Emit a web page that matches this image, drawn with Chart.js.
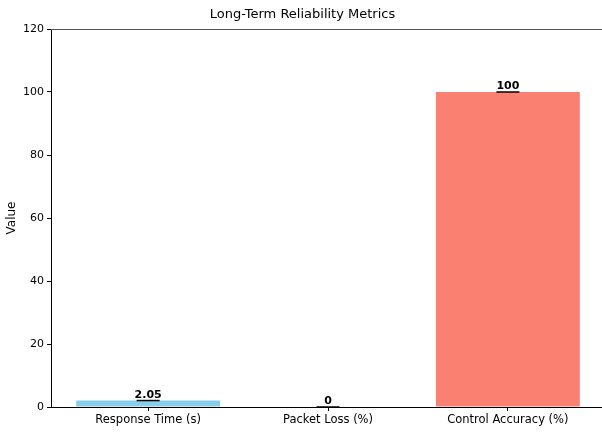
<!DOCTYPE html>
<html lang="en">
<head>
  <meta charset="UTF-8">
  <title>Long-Term Reliability Metrics</title>
  <script src="https://cdn.jsdelivr.net/npm/chart.js"></script>
  <style>
    body { margin: 0; background: #fff; overflow: hidden; }
    .wrap { width: 605px; height: 432px; }
  </style>
</head>
<body>
  <div class="wrap"><canvas id="grafico"></canvas></div>

  <script>
    const categorias = ['Response Time (s)', 'Packet Loss (%)', 'Control Accuracy (%)'];
    const valores = [2.05, 0, 100];
    const cores = ['#87CEEB', '#90EE90', '#FA8072'];
    const rotulos = ['2.05', '0', '100'];
    const yTicks = [0, 20, 40, 60, 80, 100, 120];

    const fonte = 'DejaVu Sans';

    // tampas de erro + rótulos em negrito acima de cada barra
    const rotulosPlugin = {
      id: 'rotulos',
      afterDatasetsDraw(chart) {
        const { ctx, scales: { x, y } } = chart;
        ctx.save();
        valores.forEach((v, i) => {
          const px = x.getPixelForValue(i);
          const py = y.getPixelForValue(v);
          ctx.strokeStyle = '#000';
          ctx.lineWidth = 1.5;
          ctx.beginPath();
          ctx.moveTo(px - 11.5, py);
          ctx.lineTo(px + 11.5, py);
          ctx.stroke();
          ctx.fillStyle = '#000';
          ctx.font = 'bold 11px "' + fonte + '"';
          ctx.textAlign = 'center';
          ctx.textBaseline = 'alphabetic';
          ctx.fillText(rotulos[i], px, py - 3);
        });
        // moldura superior
        const a = chart.chartArea;
        ctx.strokeStyle = '#555';
        ctx.lineWidth = 1;
        ctx.beginPath();
        ctx.moveTo(a.left, a.top + 0.5);
        ctx.lineTo(a.right, a.top + 0.5);
        ctx.stroke();
        ctx.restore();
      }
    };

    new Chart(grafico, {
      type: 'bar',
      data: {
        datasets: [{
          data: valores.map((v, i) => ({ x: i, y: v })),
          backgroundColor: cores,
          barPercentage: 0.8,
          categoryPercentage: 1
        }]
      },
      options: {
        responsive: true,
        maintainAspectRatio: false,
        animation: false,
        layout: { padding: 0 },
        plugins: {
          legend: { display: false },
          tooltip: { enabled: false },
          title: {
            display: true,
            text: 'Long-Term Reliability Metrics',
            color: '#000',
            font: { family: fonte, size: 13, weight: 'normal' },
            padding: { top: 7, bottom: 6.4 }
          }
        },
        scales: {
          x: {
            type: 'linear',
            offset: false,
            min: -0.54,
            max: 2.54,
            afterBuildTicks: s => { s.ticks = categorias.map((_, i) => ({ value: i })); },
            afterFit: s => { s.height = 25; },
            ticks: {
              callback: v => categorias[v],
              color: '#000',
              font: { family: fonte, size: 11.5 },
              padding: 2,
              maxRotation: 0,
              autoSkip: false
            },
            grid: { offset: false, drawOnChartArea: false, tickLength: 4, color: '#000' },
            border: { color: '#000', width: 1 }
          },
          y: {
            min: 0,
            max: 120,
            afterBuildTicks: s => { s.ticks = yTicks.map(v => ({ value: v })); },
            afterFit: s => { s.width = 51; },
            ticks: {
              color: '#000',
              font: { family: fonte, size: 11 },
              padding: 3
            },
            grid: { drawOnChartArea: false, tickLength: 4, color: '#000' },
            border: { color: '#000', width: 1 },
            title: {
              display: true,
              text: 'Value',
              color: '#000',
              font: { family: fonte, size: 12 },
              padding: { top: 5, bottom: 0 }
            }
          }
        }
      },
      plugins: [rotulosPlugin]
    });
  </script>
</body>
</html>
